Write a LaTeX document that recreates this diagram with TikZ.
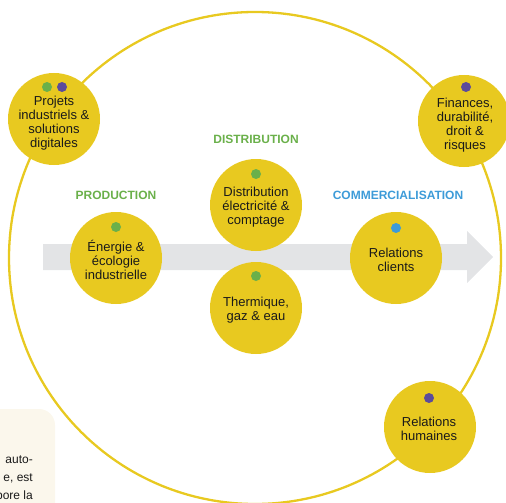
\documentclass[tikz,border=0pt]{standalone}
\usepackage{fontspec}
\setmainfont{Liberation Sans}
\usetikzlibrary{calc}
\definecolor{ylw}{HTML}{E8C920}
\definecolor{grn}{HTML}{6AB04A}
\definecolor{prp}{HTML}{5B4B9B}
\definecolor{blu}{HTML}{3D9BD8}
\definecolor{band}{HTML}{E3E4E6}
\definecolor{cream}{HTML}{FBF7EC}
\definecolor{txt}{HTML}{1A1A1A}
\tikzset{
  bub/.style={circle, fill=ylw, minimum size=92pt, inner sep=0pt},
  lbl/.style={align=center, text=txt, inner sep=0pt, font=\fontsize{13}{14}\selectfont},
  dot/.style={circle, minimum size=10pt, inner sep=0pt},
  stage/.style={font=\fontsize{12}{14}\selectfont\bfseries},
  side/.style={anchor=base east, text=txt, font=\fontsize{12}{14}\selectfont, inner sep=0pt}
}
\begin{document}
\begin{tikzpicture}[x=1pt,y=-1pt]
\useasboundingbox (0,0) rectangle (506,503);
\clip (0,0) rectangle (506,503);
% cream box
\fill[cream, rounded corners=16pt] (-30,409) rectangle (55,540);
\node[side] (s1) at (33,463) {auto-};
\node[side] (s2) at (33,481) {e, est};
\node[side] (s3) at (33,499) {pore la};
% big ring
\draw[ylw, line width=2.3pt] (255,258) circle (246);
% arrow band
\fill[band] (43,244) -- (467,244) -- (467,231) -- (493,257) -- (467,283) -- (467,270) -- (43,270) -- cycle;
% stage labels
\node[stage, text=grn] (lprod) at (116,195) {PRODUCTION};
\node[stage, text=grn] (ldist) at (256,139) {DISTRIBUTION};
\node[stage, text=blu] (lcom) at (398,195) {COMMERCIALISATION};
% bubbles
\node[bub] (proj) at (54,119) {};
\node[lbl] (projt) at (54,123.5) {Projets\\industriels \&\\solutions\\digitales};
\node[dot, fill=grn] (pd1) at (47,87) {};
\node[dot, fill=prp] (pd2) at (62,87) {};
\node[bub] (ener) at (116,258) {};
\node[lbl] (enert) at (116,260) {Énergie \&\\écologie\\industrielle};
\node[dot, fill=grn] (ed) at (116,227) {};
\node[bub] (dist) at (256,205) {};
\node[lbl] (distt) at (256,207.5) {Distribution\\électricité \&\\comptage};
\node[dot, fill=grn] (dd) at (256,174) {};
\node[bub] (therm) at (256,308) {};
\node[lbl] (thermt) at (256,310.5) {Thermique,\\gaz \& eau};
\node[dot, fill=grn] (td) at (256,276) {};
\node[bub] (clients) at (396,258) {};
\node[lbl] (clientst) at (396,260) {Relations\\clients};
\node[dot, fill=blu] (cd) at (396,228) {};
\node[bub] (fin) at (464,121) {};
\node[lbl] (fint) at (465,125) {Finances,\\durabilité,\\droit \&\\risques};
\node[dot, fill=prp] (fd) at (466,87) {};
\node[bub] (rh) at (430,427) {};
\node[lbl] (rht) at (429,428.5) {Relations\\humaines};
\node[dot, fill=prp] (rd) at (429,398) {};
\end{tikzpicture}
\end{document}
